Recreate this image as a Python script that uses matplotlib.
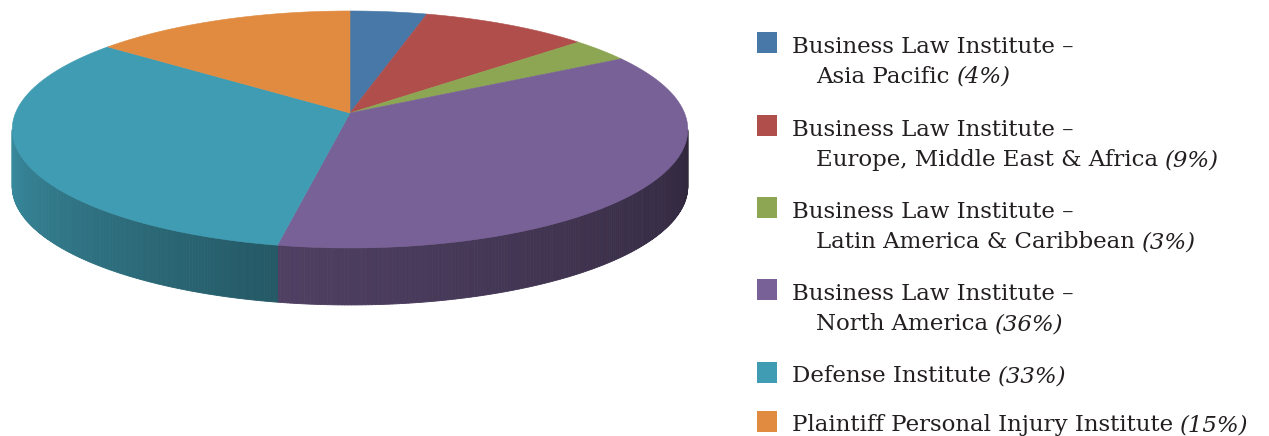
import numpy as np
import matplotlib.pyplot as plt
from matplotlib.patches import Polygon, Rectangle
from matplotlib.colors import to_rgb

# Chart data
labels = [
    "Business Law Institute – Asia Pacific",
    "Business Law Institute – Europe, Middle East & Africa",
    "Business Law Institute – Latin America & Caribbean",
    "Business Law Institute – North America",
    "Defense Institute",
    "Plaintiff Personal Injury Institute",
]
# slice sizes as drawn in the picture (%)
shares = [4.2, 9.2, 3.3, 36.3, 32.6, 14.4]
# percentages printed in the legend
legend_pct = ["4%", "9%", "3%", "36%", "33%", "15%"]
colors = ["#4878a8", "#b04e4b", "#8ca653", "#786196", "#409cb2", "#e08b40"]
# wall shading (left, right) for each slice
wall_shade = [(0.8, 0.5), (0.8, 0.5), (0.8, 0.5), (0.66, 0.40), (0.9, 0.57), (0.8, 0.5)]

W, H = 1269, 436
fig = plt.figure(figsize=(W / 100, H / 100), dpi=100)
ax = fig.add_axes([0, 0, 1, 1])
ax.set_xlim(0, W)
ax.set_ylim(H, 0)
ax.axis("off")

# perspective disc geometry (pixels)
CX, CY = 350, 113
A, B, K = 334.5, 116.2, 0.139
DEPTH = 57


def project(theta, drop=0.0):
    t = np.radians(theta)
    u, v = np.cos(t), -np.sin(t)
    w = 1 - K * v
    return CX + A * u / w, CY + B * v / w + drop


frac = np.array(shares, dtype=float) / sum(shares)
cum = np.concatenate([[0], np.cumsum(frac)])
spans = [(90 - 360 * cum[i + 1], 90 - 360 * cum[i]) for i in range(len(shares))]

# visible front wall range
edge = np.degrees(np.arcsin(K))
vis = (180 + edge, 360 - edge)

# walls
for i, (t0, t1) in enumerate(spans):
    base = np.array(to_rgb(colors[i]))
    for k in (-1, 0, 1):
        lo = max(t0, vis[0] + 360 * k)
        hi = min(t1, vis[1] + 360 * k)
        if hi <= lo:
            continue
        n = max(int((hi - lo) * 2), 2)
        th = np.linspace(lo, hi, n + 1)
        f0, f1 = wall_shade[i]
        for j in range(n):
            seg = np.linspace(th[j], th[j + 1], 3)
            xs, ys = project(seg)
            xb, yb = project(seg[::-1], DEPTH)
            pts = np.column_stack([np.concatenate([xs, xb]), np.concatenate([ys, yb])])
            f = f0 + (f1 - f0) * (j + 0.5) / n
            c = np.clip(base * f, 0, 1)
            ax.add_patch(Polygon(pts, closed=True, facecolor=c, edgecolor=c, lw=0.6))

# top face
for i, (t0, t1) in enumerate(spans):
    th = np.linspace(t0, t1, 200)
    xs, ys = project(th)
    pts = np.column_stack([np.concatenate([[CX], xs]), np.concatenate([[CY], ys])])
    ax.add_patch(Polygon(pts, closed=True, facecolor=colors[i], edgecolor=colors[i], lw=0.4))

# legend
fig.canvas.draw()
renderer = fig.canvas.get_renderer()
font = dict(family="DejaVu Serif", size=16.5, color="#231f20")
sq_bottom = [53, 136, 218, 300, 383, 432]
for i, lab in enumerate(labels):
    yb = sq_bottom[i]
    ax.add_patch(Rectangle((757, yb - 21), 20, 21, facecolor=colors[i], edgecolor="none"))
    parts = lab.split(" – ")
    if len(parts) == 2:
        ax.text(792, yb, parts[0] + " –", va="baseline", **font)
        x, y, last = 816, yb + 30, parts[1]
    else:
        x, y, last = 792, yb - 1, parts[0]
    t = ax.text(x, y, last + " ", va="baseline", **font)
    bb = t.get_window_extent(renderer=renderer)
    ax.text(bb.x1, y, f"({legend_pct[i]})", va="baseline", style="italic", **font)

fig.savefig("out.png", dpi=100)
